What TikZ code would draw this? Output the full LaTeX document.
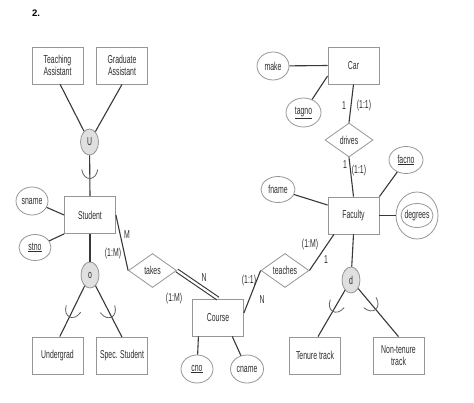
\documentclass[tikz,border=0pt]{standalone}
\usepackage{fontspec}
\setmainfont{Liberation Sans}
\newfontfamily\narrowf[FakeStretch=0.6]{Liberation Sans}
\usetikzlibrary{shapes.geometric,calc}
\definecolor{boxc}{HTML}{969696}
\definecolor{linec}{HTML}{383838}
\definecolor{txt}{HTML}{2E2E2E}
\definecolor{circfill}{HTML}{E0E0E0}
\newcommand\ef{\narrowf\fontsize{11.5}{12.5}\selectfont}
\begin{document}
\begin{tikzpicture}[x=1pt,y=-1pt,
  ent/.style={draw=boxc, line width=0.8pt, fill=white, minimum width=51pt, minimum height=37pt, inner sep=1pt, align=center, font=\ef, text=txt},
  att/.style={ellipse, draw=boxc, line width=0.8pt, fill=white, minimum width=32pt, minimum height=28pt, inner sep=0pt, font=\ef, text=txt},
  rel/.style={diamond, draw=boxc, line width=0.8pt, fill=white, minimum width=48pt, minimum height=34pt, inner sep=0pt, font=\ef, text=txt},
  spec/.style={ellipse, draw=boxc, line width=0.8pt, fill=circfill, minimum width=18pt, minimum height=26pt, inner sep=0pt, font=\ef, text=txt},
  lbl/.style={font=\ef, text=txt, inner sep=0pt},
  conn/.style={draw=linec, line width=1.1pt},
  cup/.pic={\draw[linec!80, line width=0.8pt] (-5,-8) .. controls (7,-6) and (7,6) .. (-5,8);},
  cupat/.style={pos=#1, sloped, allow upside down}
]
\useasboundingbox (0,0) rectangle (474,402);

\node[font=\bfseries\fontsize{9.5}{10}\selectfont, text=black, inner sep=0pt] (title) at (36,13.5) {2.};

% entities
\node[ent] (ta) at (57.5,65.5) {Teaching\\Assistant};
\node[ent] (ga) at (122,65.5) {Graduate\\Assistant};
\node[ent] (car) at (353.5,65.5) {Car};
\node[ent] (stu) at (90,215) {Student};
\node[ent] (fac) at (353.5,215.5) {Faculty};
\node[ent] (course) at (218,317.5) {Course};
\node[ent] (ug) at (57.5,355.5) {Undergrad};
\node[ent] (ss) at (122,356) {Spec. Student};
\node[ent] (tt) at (315,355.5) {Tenure track};
\node[ent] (nt) at (398.5,355.5) {Non-tenure\\track};

% attributes
\node[att] (make) at (273,66) {make};
\node[att, minimum width=35pt, minimum height=29pt] (tagno) at (303.5,112.5) {\underline{tagno}};
\node[att] (sname) at (32,201) {sname};
\node[att, minimum height=26pt] (stno) at (35,247.5) {\underline{stno}};
\node[att, minimum width=34pt, minimum height=26pt] (fname) at (278,189.5) {fname};
\node[att, minimum width=34pt, minimum height=27pt] (facno) at (406,160) {\underline{facno}};
\node[att, minimum width=42pt, minimum height=47pt] (degrees) at (417,215.5) {degrees};
\draw[boxc, line width=0.8pt] (degrees.center) ellipse (16 and 12);
\node[att] (cno) at (197,369) {\underline{cno}};
\node[att, minimum width=33pt] (cname) at (247,369) {cname};

% relationships
\node[rel] (drives) at (349,140) {drives};
\node[rel] (takes) at (152.5,270.5) {takes};
\node[rel] (teaches) at (285,270.5) {teaches};

% specialization circles
\node[spec] (u) at (89.5,142) {U};
\node[spec] (o) at (90,275) {o};
\node[spec] (d) at (351,280) {d};

% connectors
\draw[conn] (ta.-82) -- (u);
\draw[conn] (ga.south) -- (u);
\draw[conn] (u) -- (stu.north) pic[cupat=0.47] {cup};
\draw[conn] (sname) -- (stu.west);
\draw[conn] (stno) -- (stu.south west);
\draw[conn] (stu.south) -- (o);
\draw[conn] (o) -- (ug.83) pic[cupat=0.54] {cup};
\draw[conn] (o) -- (ss.north) pic[cupat=0.54] {cup};
\draw[conn] (stu.east) -- (takes.west);
\draw[conn, double=white, double distance=2.2pt] (takes.east) -- (course.north);
\draw[conn] (course.10) -- (teaches.west);
\draw[conn] (teaches.east) -- (fac.224);
\draw[conn] (course.224) -- (cno);
\draw[conn] (course.-53) -- (cname);
\draw[conn] (fname) -- (fac.158);
\draw[conn] (fac.north east) -- (facno);
\draw[conn] (fac.east) -- (degrees);
\draw[conn] (fac.north) -- (drives.south);
\draw[conn] (car.south) -- (drives.north);
\draw[conn] (make) -- (car.west);
\draw[conn] (tagno) -- (car.202);
\draw[conn] (fac.south) -- (d);
\draw[conn] (d) -- (tt.81) pic[cupat=0.38] {cup};
\draw[conn] (d) -- (nt.north) pic[cupat=0.37] {cup};

% cardinality labels
\node[lbl] (l1) at (127,235) {M};
\node[lbl] (l2) at (113,254) {(1:M)};
\node[lbl] (l3) at (204,278) {N};
\node[lbl] (l4) at (174,299) {(1:M)};
\node[lbl] (l5) at (249,281) {(1:1)};
\node[lbl] (l6) at (262,300) {N};
\node[lbl] (l7) at (310,245) {(1:M)};
\node[lbl] (l8) at (326,260) {1};
\node[lbl] (l9) at (344,106) {1};
\node[lbl] (l10) at (364,106) {(1:1)};
\node[lbl] (l11) at (345,165) {1};
\node[lbl] (l12) at (359,171) {(1:1)};
\end{tikzpicture}
\end{document}
